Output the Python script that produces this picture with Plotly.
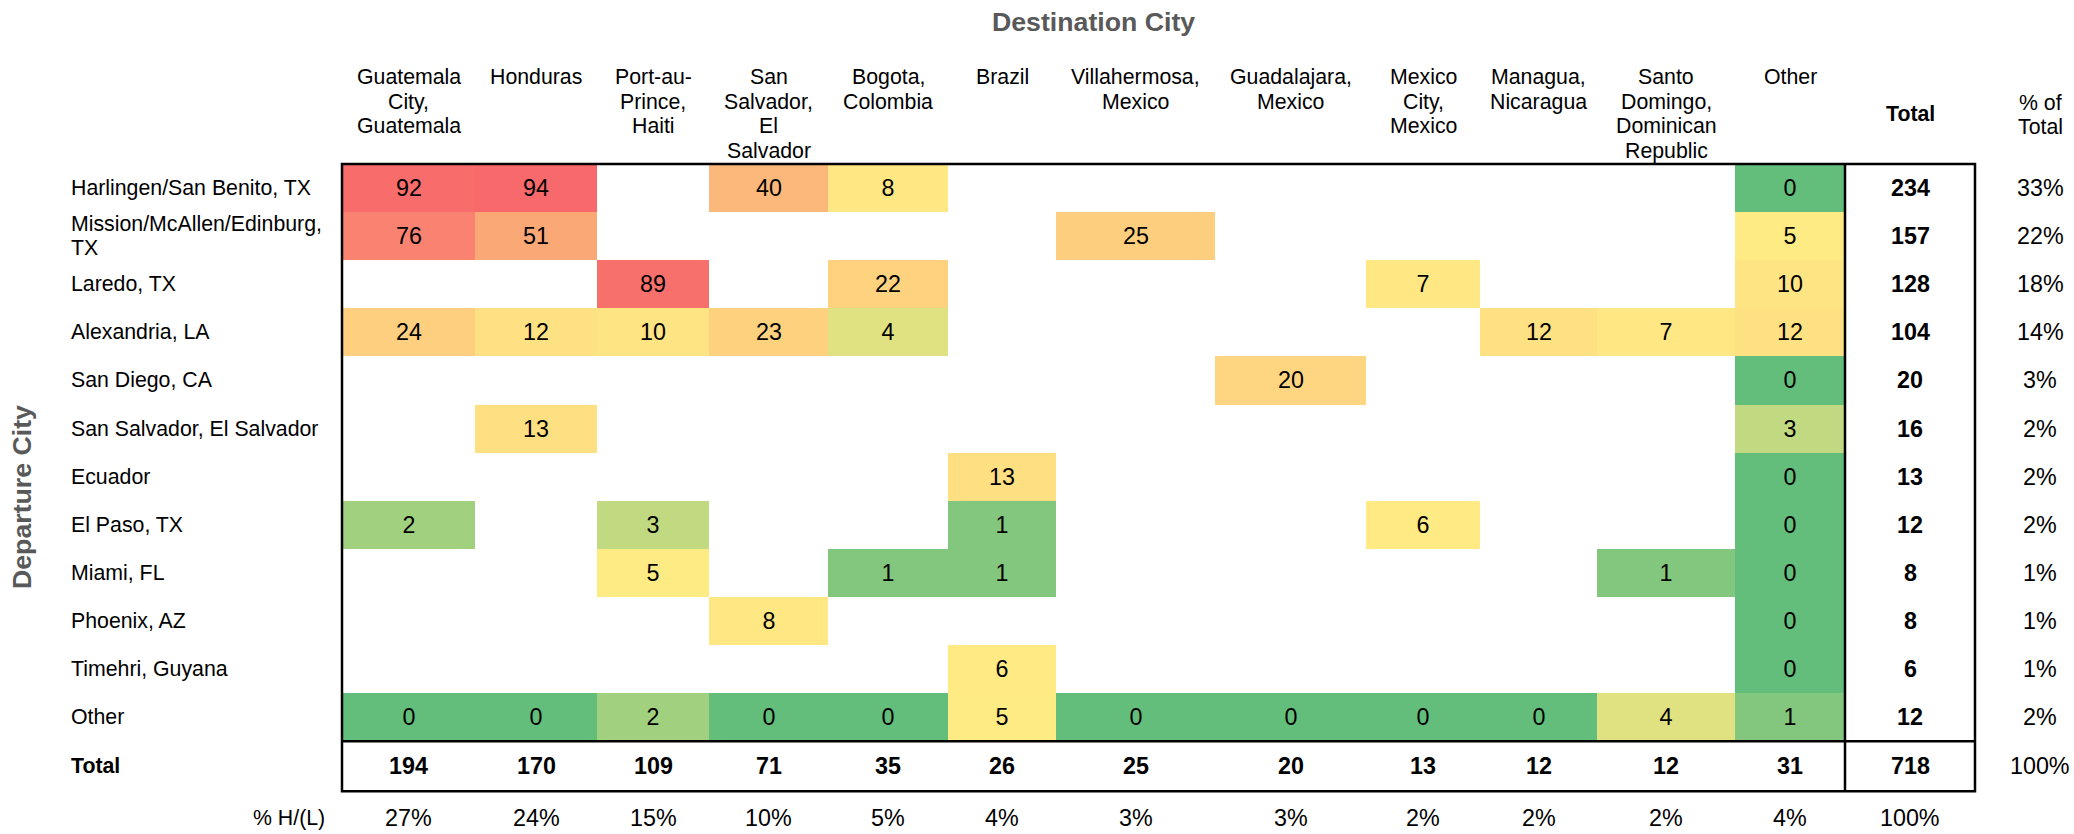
import plotly.graph_objects as go
import numpy as np

# ---------------- data ----------------
DEST_CITIES = [
    "Guatemala\nCity,\nGuatemala", "Honduras", "Port-au-\nPrince,\nHaiti",
    "San\nSalvador,\nEl\nSalvador", "Bogota,\nColombia", "Brazil",
    "Villahermosa,\nMexico", "Guadalajara,\nMexico", "Mexico\nCity,\nMexico",
    "Managua,\nNicaragua", "Santo\nDomingo,\nDominican\nRepublic", "Other",
]
DEPART_CITIES = [
    "Harlingen/San Benito, TX", "Mission/McAllen/Edinburg,\nTX", "Laredo, TX",
    "Alexandria, LA", "San Diego, CA", "San Salvador, El Salvador", "Ecuador",
    "El Paso, TX", "Miami, FL", "Phoenix, AZ", "Timehri, Guyana", "Other",
]
N = None
r_harlingen = [92, 94, N, 40, 8, N, N, N, N, N, N, 0]
r_mission   = [76, 51, N, N, N, N, 25, N, N, N, N, 5]
r_laredo    = [N, N, 89, N, 22, N, N, N, 7, N, N, 10]
r_alexandria = [24, 12, 10, 23, 4, N, N, N, N, 12, 7, 12]
r_sandiego  = [N, N, N, N, N, N, N, 20, N, N, N, 0]
r_sansalv   = [N, 13, N, N, N, N, N, N, N, N, N, 3]
r_ecuador   = [N, N, N, N, N, 13, N, N, N, N, N, 0]
r_elpaso    = [2, N, 3, N, N, 1, N, N, 6, N, N, 0]
r_miami     = [N, N, 5, N, 1, 1, N, N, N, N, 1, 0]
r_phoenix   = [N, N, N, 8, N, N, N, N, N, N, N, 0]
r_timehri   = [N, N, N, N, N, 6, N, N, N, N, N, 0]
r_other     = [0, 0, 2, 0, 0, 5, 0, 0, 0, 0, 4, 1]

ROW_TOTALS = [234, 157, 128, 104, 20, 16, 13, 12, 8, 8, 6, 12]
ROW_PCT = [33, 22, 18, 14, 3, 2, 2, 2, 1, 1, 1, 2]
COL_TOTALS = [194, 170, 109, 71, 35, 26, 25, 20, 13, 12, 12, 31]
COL_PCT = [27, 24, 15, 10, 5, 4, 3, 3, 2, 2, 2, 4]
GRAND_TOTAL = 718
GRAND_PCT = 100

TITLE_X = "Destination City"
TITLE_Y = "Departure City"
TOTAL_LABEL = "Total"
PCT_TOTAL_LABEL = "% of\nTotal"
PCT_ROW_LABEL = "% H/(L)"

MATRIX = [r_harlingen, r_mission, r_laredo, r_alexandria, r_sandiego, r_sansalv,
          r_ecuador, r_elpaso, r_miami, r_phoenix, r_timehri, r_other]

# ---------------- layout constants (pixels) ----------------
W, H = 2074, 834
FONT = "Liberation Sans, Arial, sans-serif"
FS = 21.3          # labels
NUM_FS = 23.3      # numbers
TITLE_FS = 26.7
X0 = 342
COL_WIDTHS = [133, 122, 112, 119, 120, 108, 159, 151, 114, 117, 138, 110]
TOTAL_COL_W = 130
PCT_COL_X = 2040
Y0 = 164
ROW_H = 48.1
TOTAL_ROW_H = 50
PCT_ROW_Y = 818
LABEL_X = 69
LINE_GAP = 24.5
HEADER_TOP = 77

col_edges = [X0]
for w in COL_WIDTHS:
    col_edges.append(col_edges[-1] + w)
col_centers = [(a + b) / 2 for a, b in zip(col_edges[:-1], col_edges[1:])]
row_edges = [Y0 + ROW_H * k for k in range(len(DEPART_CITIES) + 1)]
row_centers = [(a + b) / 2 for a, b in zip(row_edges[:-1], row_edges[1:])]
grid_right = col_edges[-1]
total_right = grid_right + TOTAL_COL_W
total_x = (grid_right + total_right) / 2
grid_bottom = row_edges[-1]
total_bottom = grid_bottom + TOTAL_ROW_H
total_y = (grid_bottom + total_bottom) / 2

z = np.array([[np.nan if v is None else v for v in row] for row in MATRIX], dtype=float)
text = [["" if v is None else str(v) for v in row] for row in MATRIX]
vals = z[~np.isnan(z)]
zmin, zmax, zmid = float(vals.min()), float(vals.max()), float(np.median(vals))
colorscale = [[0, "#63BE7B"], [(zmid - zmin) / (zmax - zmin), "#FFEB84"], [1, "#F8696B"]]

fig = go.Figure()
fig.add_trace(go.Heatmap(
    z=z, x=col_edges, y=row_edges, text=text, texttemplate="%{text}",
    textfont=dict(family=FONT, size=NUM_FS, color="black"),
    colorscale=colorscale, zmin=zmin, zmax=zmax, showscale=False,
    hoverinfo="skip", xgap=0, ygap=0,
))

ann = []


def add(x, y, t, size=FS, bold=False, xanchor="center", color="black", textangle=0):
    ann.append(dict(x=x, y=y, xref="x", yref="y", text=f"<b>{t}</b>" if bold else t,
                    showarrow=False, xanchor=xanchor, yanchor="middle", textangle=textangle,
                    font=dict(family=FONT, size=size, color=color)))


# column headers (top aligned, each line placed)
for cx, lab in zip(col_centers, DEST_CITIES):
    for i, line in enumerate(lab.split("\n")):
        add(cx, HEADER_TOP + i * LINE_GAP, line)
add(total_x, 114, TOTAL_LABEL, bold=True)
pl = PCT_TOTAL_LABEL.split("\n")
for i, line in enumerate(pl):
    add(PCT_COL_X, 115 - LINE_GAP / 2 * (len(pl) - 1) + i * LINE_GAP, line)

# row labels
for cy, lab in zip(row_centers, DEPART_CITIES):
    lines = lab.split("\n")
    for i, line in enumerate(lines):
        add(LABEL_X, cy - LINE_GAP / 2 * (len(lines) - 1) + i * LINE_GAP, line, xanchor="left")
add(LABEL_X, total_y, TOTAL_LABEL, bold=True, xanchor="left")
add(col_edges[0] - 15, PCT_ROW_Y, PCT_ROW_LABEL, xanchor="right")

# totals column & % of total
for cy, t, p in zip(row_centers, ROW_TOTALS, ROW_PCT):
    add(total_x, cy, str(t), size=NUM_FS, bold=True)
    add(PCT_COL_X, cy, f"{p}%", size=NUM_FS)
# totals row & % row
for cx, t, p in zip(col_centers, COL_TOTALS, COL_PCT):
    add(cx, total_y, str(t), size=NUM_FS, bold=True)
    add(cx, PCT_ROW_Y, f"{p}%", size=NUM_FS)
add(total_x, total_y, str(GRAND_TOTAL), size=NUM_FS, bold=True)
add(PCT_COL_X, total_y, f"{GRAND_PCT}%", size=NUM_FS)
add(total_x, PCT_ROW_Y, f"{GRAND_PCT}%", size=NUM_FS)

# titles
add((col_edges[0] + grid_right) / 2, 22, TITLE_X, size=TITLE_FS, bold=True, color="#595959")
add(22, 497, TITLE_Y, size=TITLE_FS, bold=True, color="#595959", textangle=-90)

lw = 2.5
shapes = [
    dict(type="rect", x0=col_edges[0], x1=total_right, y0=Y0, y1=total_bottom,
         line=dict(color="black", width=lw), xref="x", yref="y"),
    dict(type="line", x0=grid_right, x1=grid_right, y0=Y0, y1=total_bottom,
         line=dict(color="black", width=lw), xref="x", yref="y"),
    dict(type="line", x0=col_edges[0], x1=total_right, y0=grid_bottom, y1=grid_bottom,
         line=dict(color="black", width=lw), xref="x", yref="y"),
]

fig.update_layout(
    width=W, height=H, margin=dict(l=0, r=0, t=0, b=0),
    paper_bgcolor="white", plot_bgcolor="white",
    xaxis=dict(range=[0, W], visible=False, fixedrange=True),
    yaxis=dict(range=[H, 0], visible=False, fixedrange=True),
    annotations=ann, shapes=shapes, showlegend=False,
)
fig.write_html("out.html", config={"displayModeBar": False},
               post_script="document.body.style.margin='0';document.body.style.overflow='hidden';")
